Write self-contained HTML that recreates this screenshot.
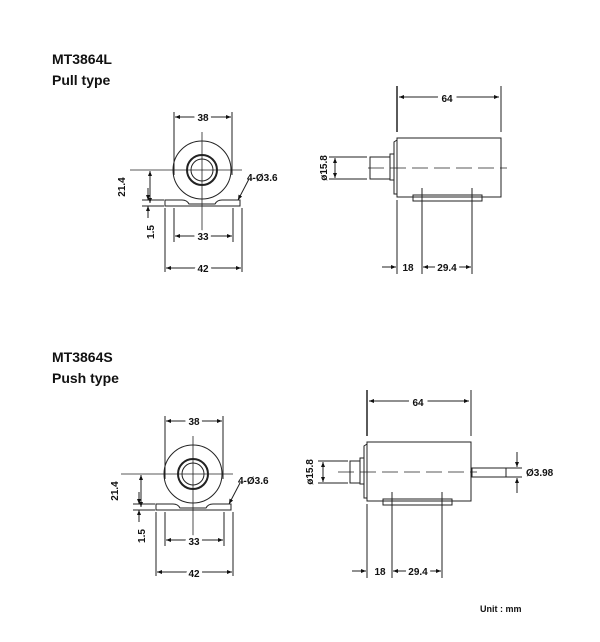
<!DOCTYPE html>
<html><head><style>
body{margin:0;background:#fff}
svg text{font-family:"Liberation Sans",sans-serif;font-weight:bold;fill:#111}
</style></head><body>
<svg width="600" height="637" viewBox="0 0 600 637" xmlns="http://www.w3.org/2000/svg">
<defs>
<marker id="a" viewBox="0 0 10 10" refX="10" refY="5" markerWidth="6" markerHeight="5" orient="auto-start-reverse"><path d="M0,1 L10,5 L0,9z" fill="#111"/></marker>
<g id="front" stroke="#222" fill="none" stroke-width="1">
  <circle cx="0" cy="0" r="29"/>
  <circle cx="0" cy="0" r="15" stroke-width="2"/>
  <circle cx="0" cy="0" r="11"/>
  <line x1="-72" y1="0" x2="40" y2="0" stroke-width="0.8"/>
  <line x1="0" y1="-38" x2="0" y2="62" stroke-width="0.8"/>
  <path d="M-37,30 H-20 Q-15,30 -13,34 H13 Q15,30 20,30 H38 V36 H-37 Z"/>
  <line x1="-28" y1="-58" x2="-28" y2="5"/>
  <line x1="30" y1="-58" x2="30" y2="5"/>
  <line x1="-27" y1="-53" x2="29" y2="-53" marker-start="url(#a)" marker-end="url(#a)"/>
  <line x1="-28" y1="38" x2="-28" y2="72"/>
  <line x1="31" y1="38" x2="31" y2="72"/>
  <line x1="-27" y1="66" x2="30" y2="66" marker-start="url(#a)" marker-end="url(#a)"/>
  <line x1="-37" y1="38" x2="-37" y2="102"/>
  <line x1="40" y1="38" x2="40" y2="102"/>
  <line x1="-36" y1="98" x2="39" y2="98" marker-start="url(#a)" marker-end="url(#a)"/>
  <line x1="-52" y1="1" x2="-52" y2="33" marker-start="url(#a)" marker-end="url(#a)"/>
  <line x1="-60" y1="30" x2="-38" y2="30"/>
  <line x1="-60" y1="36" x2="-38" y2="36"/>
  <line x1="-54" y1="18" x2="-54" y2="30" marker-end="url(#a)"/>
  <line x1="-54" y1="48" x2="-54" y2="36" marker-end="url(#a)"/>
  <line x1="47" y1="9" x2="36" y2="30" marker-end="url(#a)"/>
</g>
<g id="side" stroke="#222" fill="none" stroke-width="1">
  <rect x="0" y="0" width="104" height="59"/>
  <path d="M0,2 L-3,4 V56 H0"/>
  <line x1="-29" y1="30" x2="110" y2="30" stroke-dasharray="16,6" stroke-width="0.8"/>
  <rect x="16" y="57" width="69" height="6"/>
  <line x1="0" y1="-52" x2="0" y2="-6" stroke-width="1.5"/>
  <line x1="104" y1="-52" x2="104" y2="-6"/>
  <line x1="2" y1="-41" x2="102" y2="-41" marker-start="url(#a)" marker-end="url(#a)"/>
  <line x1="0" y1="62" x2="0" y2="136"/>
  <line x1="25" y1="50" x2="25" y2="136"/>
  <line x1="75" y1="50" x2="75" y2="136"/>
  <line x1="-15" y1="129" x2="-1" y2="129" marker-end="url(#a)"/>
  <line x1="26" y1="129" x2="74" y2="129" marker-start="url(#a)" marker-end="url(#a)"/>
</g>
</defs>

<text x="52" y="64" font-size="14">MT3864L</text>
<text x="52" y="85" font-size="14">Pull type</text>
<use href="#front" x="202" y="170"/>
<use href="#side" x="397" y="138"/>
<g stroke="#222" fill="none">
  <rect x="390" y="154" width="4" height="26"/>
  <rect x="370" y="157" width="20" height="22"/>
  <line x1="329" y1="157" x2="367" y2="157"/>
  <line x1="329" y1="179" x2="367" y2="179"/>
  <line x1="335" y1="158" x2="335" y2="178" marker-start="url(#a)" marker-end="url(#a)"/>
</g>
<g font-size="10">
<text x="203" y="121" text-anchor="middle" style="paint-order:stroke" stroke="#fff" stroke-width="6">38</text>
<text x="203" y="240" text-anchor="middle" style="paint-order:stroke" stroke="#fff" stroke-width="6">33</text>
<text x="203" y="272" text-anchor="middle" style="paint-order:stroke" stroke="#fff" stroke-width="6">42</text>
<text x="247" y="181">4-Ø3.6</text>
<text transform="translate(125,187) rotate(-90)" text-anchor="middle">21.4</text>
<text transform="translate(154,232) rotate(-90)" text-anchor="middle">1.5</text>
<text x="447" y="102" text-anchor="middle" style="paint-order:stroke" stroke="#fff" stroke-width="8">64</text>
<text x="408" y="271" text-anchor="middle">18</text>
<text x="447" y="271" text-anchor="middle" style="paint-order:stroke" stroke="#fff" stroke-width="5">29.4</text>
<text transform="translate(327,168) rotate(-90)" text-anchor="middle">ø15.8</text>
</g>

<text x="52" y="362" font-size="14">MT3864S</text>
<text x="52" y="383" font-size="14">Push type</text>
<use href="#front" x="193" y="474"/>
<use href="#side" x="367" y="442"/>
<g stroke="#222" fill="none">
<rect x="360" y="458" width="4" height="26"/>
<rect x="350" y="461" width="10" height="22"/>
<line x1="318" y1="461" x2="348" y2="461"/>
<line x1="318" y1="483" x2="348" y2="483"/>
<line x1="323" y1="462" x2="323" y2="482" marker-start="url(#a)" marker-end="url(#a)"/>
<rect x="472" y="468" width="34" height="9"/>
<line x1="500" y1="468" x2="522" y2="468"/>
<line x1="500" y1="477" x2="522" y2="477"/>
<line x1="517" y1="452" x2="517" y2="467" marker-end="url(#a)"/>
<line x1="517" y1="493" x2="517" y2="478" marker-end="url(#a)"/>
</g>
<g font-size="10">
<text x="194" y="425" text-anchor="middle" style="paint-order:stroke" stroke="#fff" stroke-width="6">38</text>
<text x="194" y="545" text-anchor="middle" style="paint-order:stroke" stroke="#fff" stroke-width="6">33</text>
<text x="194" y="577" text-anchor="middle" style="paint-order:stroke" stroke="#fff" stroke-width="6">42</text>
<text x="238" y="484">4-Ø3.6</text>
<text transform="translate(118,491) rotate(-90)" text-anchor="middle">21.4</text>
<text transform="translate(145,536) rotate(-90)" text-anchor="middle">1.5</text>
<text x="418" y="406" text-anchor="middle" style="paint-order:stroke" stroke="#fff" stroke-width="8">64</text>
<text x="380" y="575" text-anchor="middle">18</text>
<text x="418" y="575" text-anchor="middle" style="paint-order:stroke" stroke="#fff" stroke-width="5">29.4</text>
<text transform="translate(313,472) rotate(-90)" text-anchor="middle">ø15.8</text>
<text x="526" y="476">Ø3.98</text>
<text x="480" y="612" font-size="9">Unit : mm</text>
</g>
</svg>
</body></html>
